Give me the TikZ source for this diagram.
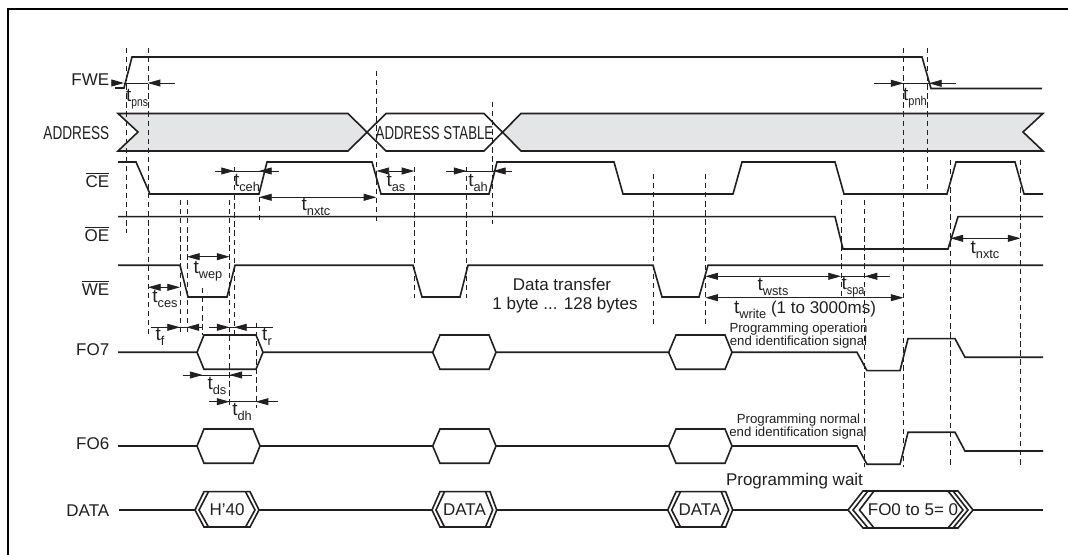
\documentclass[tikz,border=0pt]{standalone}
\usepackage{fontspec}
\setmainfont{Liberation Sans}
\usetikzlibrary{arrows.meta}
\definecolor{ink}{HTML}{231F20}
\definecolor{bandgrey}{HTML}{E4E5E7}
\newcommand{\subt}[2][1]{{\fontsize{14.2pt}{15pt}\selectfont t}\raisebox{-0.3em}{\fontsize{9.6pt}{10pt}\selectfont\scalebox{#1}[1]{#2}}}
\newcommand{\barred}[1]{\raisebox{0pt}{$\overline{\mbox{#1}}$}}
\tikzset{
  sig/.style={draw=ink,line width=1.2pt,line join=miter},
  frameline/.style={draw=black,line width=2.1pt},
  guide/.style={draw=ink,line width=0.65pt,dash pattern=on 4pt off 2.8pt},
  dim/.style={draw=ink,line width=0.6pt},
  tipboth/.style={dim,{Triangle[length=9.5pt,width=5.2pt]}-{Triangle[length=9.5pt,width=5.2pt]}},
  tipend/.style={dim,-{Triangle[length=9.5pt,width=5.2pt]}},
  lab/.style={text=ink,font=\fontsize{12.75pt}{14pt}\selectfont,inner sep=0pt,anchor=east},
  txt/.style={text=ink,font=\fontsize{12.75pt}{14pt}\selectfont,inner sep=0pt,anchor=center},
  small/.style={text=ink,font=\fontsize{9.9pt}{11pt}\selectfont,inner sep=0pt,anchor=center},
}
\begin{document}
\begin{tikzpicture}[x=0.75pt,y=-0.75pt]
\useasboundingbox (0,0) rectangle (1068,555);
\fill[white] (0,0) rectangle (1068,555);
% frame
\draw[frameline] (8,555) -- (8,9) -- (1068,9);

% ADDRESS band
\fill[bandgrey] (118,113.5) -- (348,113.5) -- (367,132) -- (348,151) -- (118,151) -- (138,132) -- cycle;
\fill[bandgrey] (521,113.5) -- (1043,113.5) -- (1023,132) -- (1043,151) -- (521,151) -- (502,132) -- cycle;
\draw[sig] (118,113.5) -- (138,132) -- (118,151) -- (348,151) -- (386,113.5) -- (484,113.5) -- (521,151) -- (1043,151) -- (1023,132) -- (1043,113.5) -- (521,113.5) -- (484,151) -- (386,151) -- (348,113.5) -- cycle;

% FWE
\draw[sig] (115,88) -- (124,88) -- (132,57) -- (922,57) -- (931,88.5) -- (1042,88.5);
% CE
\draw[sig] (118,162) -- (136,162) -- (150,194) -- (259,194) -- (267,162) -- (372,162) -- (381,194) -- (489,194) -- (497,162) -- (614,162) -- (623,194) -- (733,194) -- (742,162) -- (835,162) -- (844,194) -- (947,194) -- (956,162) -- (1015,162) -- (1024,194) -- (1043,194);
% OE
\draw[sig] (118,216.7) -- (835,216.7) -- (843,249) -- (948,249) -- (958,216.7) -- (1043,216.7);
% WE
\draw[sig] (118,265.3) -- (180,265.3) -- (188,297) -- (227,297) -- (235,265.3) -- (413,265.3) -- (422,297) -- (460,297) -- (468,265.3) -- (653,265.3) -- (662,297) -- (699,297) -- (708,265.3) -- (1043,265.3);

% FO7
\draw[sig] (118,352.3) -- (197,352.3) -- (204,335) -- (256,335) -- (263,352.3) -- (432.7,352.3) -- (440,335) -- (489,335) -- (496,352.3) -- (668.7,352.3) -- (676,335) -- (725,335) -- (732,352.3) -- (857,352.3) -- (867,370.7) -- (900,370.7) -- (908,338.7) -- (955,338.7) -- (965,357.3) -- (1043,357.3);
\draw[sig] (197,352.3) -- (204,369.3) -- (256,369.3) -- (263,352.3);
\draw[sig] (432.7,352.3) -- (440,369.3) -- (489,369.3) -- (496,352.3);
\draw[sig] (668.7,352.3) -- (676,369.3) -- (725,369.3) -- (732,352.3);
% FO6
\draw[sig] (118,446) -- (197,446) -- (204,429) -- (253,429) -- (260,446) -- (432.7,446) -- (440,429) -- (489,429) -- (496,446) -- (668.7,446) -- (676,429) -- (725,429) -- (732,446) -- (857,446) -- (867,464.3) -- (900,464.3) -- (908,432.3) -- (955,432.3) -- (965,451) -- (1043,451);
\draw[sig] (197,446) -- (204,463.3) -- (253,463.3) -- (260,446);
\draw[sig] (432.7,446) -- (440,463.3) -- (489,463.3) -- (496,446);
\draw[sig] (668.7,446) -- (676,463.3) -- (725,463.3) -- (732,446);

% DATA
\draw[sig] (119,510) -- (195,510) (259,510) -- (432,510) (496.7,510) -- (667.7,510) (732.7,510) -- (848,510) (973,510) -- (1043,510);
\foreach \a/\b/\c/\d in {195/204/250/259,432/440/490/496.7,667.7/676/725.7/732.7}{
  \draw[sig] (\b,491.7) -- (\a,510) -- (\b,527) -- (\c,527) -- (\d,510) -- (\c,491.7) -- cycle;
  \draw[sig] (\b+4.5,491.7) -- (\a+4,510) -- (\b+4.5,527);
  \draw[sig] (\c-4.5,491.7) -- (\d-4,510) -- (\c-4.5,527);
}
\draw[sig] (863,491) -- (848,510) -- (863,528) -- (958,528) -- (973,510) -- (958,491) -- cycle;
\draw[sig] (868,491) -- (853,510) -- (868,528) (953,491) -- (968,510) -- (953,528);
\draw[sig] (874,491) -- (859.5,510) -- (874,528) (948,491) -- (963,510) -- (948,528);

% guides
\foreach \x/\a/\b in {
  126/48/233, 148/48/335, 180/200/332, 187/200/332, 202.6/288/335,
  229.5/200/407, 234/167/336, 256/323/408, 259/197/224, 376.4/71/224,
  414.4/167/298, 466.5/167/298, 492/102/224, 653.5/174/328, 705.3/174/328,
  841/200/298, 864.7/200/467, 903.5/48/467, 927.7/48/189, 950.5/160/467, 1020.5/160/467}{
  \draw[guide] (\x,\a) -- (\x,\b);
}

% dimension arrows
\coordinate (pnsA) at (113,83); \coordinate (pnsB) at (124,83); \coordinate (pnsC) at (175,83);
\draw[tipend] (pnsA) -- (pnsB);
\draw[tipend] (pnsC) -- (147.7,83);
\draw[dim] (pnsB) -- (147.7,83);
\draw[dim] (215,171) -- (279,171);
\draw[tipend] (215,171) -- (234,171);
\draw[tipend] (279,171) -- (259,171);
\draw[tipboth] (259,197.3) -- (376.4,197.3);
\draw[tipboth] (376.4,171) -- (414.4,171);
\draw[dim] (446,171) -- (512,171);
\draw[tipend] (446,171) -- (466.5,171);
\draw[tipend] (512,171) -- (493,171);
\draw[dim] (874,83.3) -- (956,83.3);
\draw[tipend] (874,83.3) -- (903.5,83.3);
\draw[tipend] (956,83.3) -- (929,83.3);
\draw[tipboth] (950.5,238.3) -- (1020.5,238.3);
\draw[tipboth] (705.3,276.3) -- (841,276.3);
\draw[dim] (841,276.3) -- (890,276.3);
\draw[tipend] (890,276.3) -- (864.7,276.3);
\draw[tipboth] (705.3,297.7) -- (903.5,297.7);
\draw[tipboth] (187,256.7) -- (229.5,256.7);
\draw[tipboth] (148,287.3) -- (180,287.3);
\draw[dim] (151,327.3) -- (202.6,327.3);
\draw[tipend] (151,327.3) -- (180,327.3);
\draw[tipend] (202.6,327.3) -- (186.5,327.3);
\draw[dim] (209,327.3) -- (273,327.3);
\draw[tipend] (209,327.3) -- (229.5,327.3);
\draw[tipend] (250,327.3) -- (234,327.3);
\draw[dim] (182.7,375) -- (251.7,375);
\draw[tipend] (182.7,375) -- (202.6,375);
\draw[tipend] (251.7,375) -- (229.5,375);
\draw[dim] (209,401.7) -- (278,401.7);
\draw[tipend] (209,401.7) -- (229.5,401.7);
\draw[tipend] (278,401.7) -- (255.7,401.7);

% signal names
\node[lab] (nFWE) at (109.5,80) {FWE};
\node[lab] (nADDR) at (109.5,133) {\scalebox{.8}[1.1]{ADDRESS}};
\node[lab] (nCE) at (109.5,180) {\barred{CE}};
\node[lab] (nOE) at (109.5,234) {\barred{OE}};
\node[lab] (nWE) at (109.5,288) {\barred{WE}};
\node[lab] (nFO7) at (109.5,350) {FO7};
\node[lab] (nFO6) at (109.5,444) {FO6};
\node[lab] (nDATA) at (109.5,511) {DATA};

% timing labels
\node[txt] (tpns) at (137,99) {\subt[.8]{pns}};
\node[txt] (tpnh) at (915,98) {\subt[.86]{pnh}};
\node[txt] (tceh) at (247,183) {\subt{ceh}};
\node[txt] (tnxtcA) at (316,207) {\subt{nxtc}};
\node[txt] (tas) at (396,183) {\subt{as}};
\node[txt] (tah) at (478,183) {\subt{ah}};
\node[txt] (tnxtcB) at (985,250) {\subt{nxtc}};
\node[txt] (twep) at (208,271) {\subt{wep}};
\node[txt] (tces) at (165,299) {\subt{ces}};
\node[txt] (tf) at (160,337) {\subt{f}};
\node[txt] (tr) at (267,337) {\subt{r}};
\node[txt] (tds) at (217,386) {\subt{ds}};
\node[txt] (tdh) at (242,412) {\subt{dh}};
\node[txt] (twsts) at (773,286.5) {\subt{wsts}};
\node[txt] (tspa) at (853,287) {\subt[.85]{spa}};
\node[txt] (twrite) at (805,310) {\subt{write} (1 to 3000ms)};

% texts
\node[txt] (stable) at (434.5,133) {\scalebox{.78}[1.1]{ADDRESS STABLE}};
\node[txt] (xfer1) at (562,284) {Data transfer};
\node[txt] (xfer2) at (565,305.5) {1 byte ... 128 bytes};
\node[small] (op1) at (798.5,329.5) {Programming operation};
\node[small] (op2) at (798.5,342.5) {end identification signal};
\node[small] (no1) at (798.5,420) {Programming normal};
\node[small] (no2) at (798,433.5) {end identification signal};
\node[txt] (wait) at (794.5,481.5) {Programming wait};
\node[txt] (h40) at (227,510) {H'40};
\node[txt] (d1) at (464.5,510) {DATA};
\node[txt] (d2) at (700,510) {DATA};
\node[txt] (fo0) at (913,510) {FO0 to 5= 0};
\end{tikzpicture}
\end{document}
